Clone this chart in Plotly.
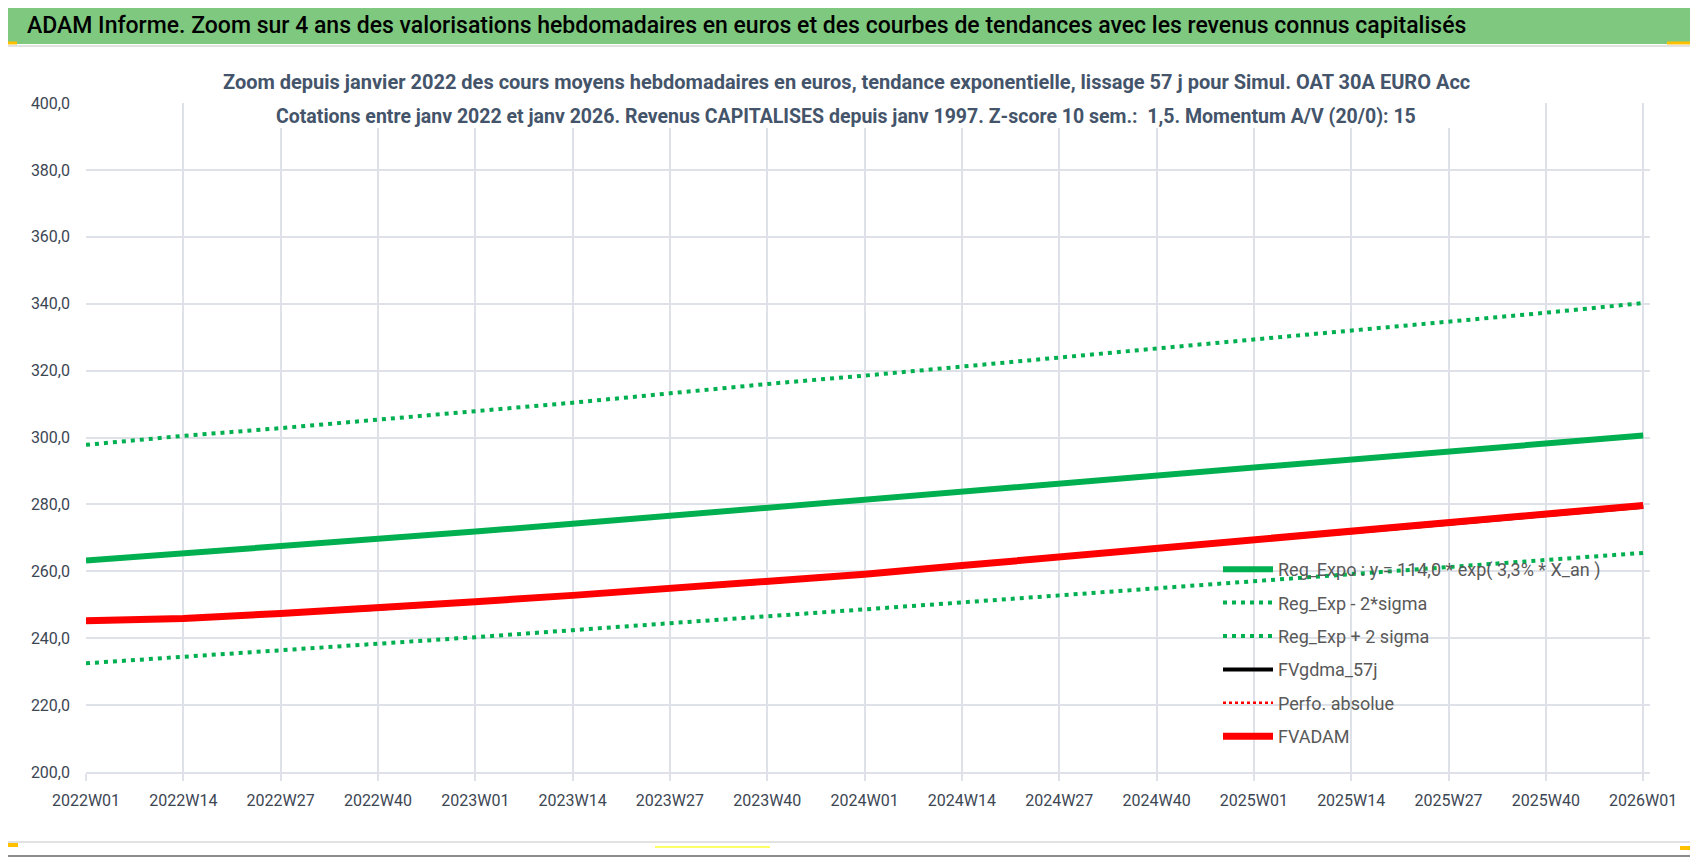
import plotly.graph_objects as go

# semaines affichées sur l'axe (une étiquette toutes les 13 semaines)
weeks = ["2022W01", "2022W14", "2022W27", "2022W40", "2023W01", "2023W14", "2023W27", "2023W40",
         "2024W01", "2024W14", "2024W27", "2024W40", "2025W01", "2025W14", "2025W27", "2025W40", "2026W01"]

# valeurs
reg_expo = [263.2, 265.3, 267.4, 269.6, 271.9, 274.2, 276.6, 278.9, 281.3, 283.7, 286.1, 288.6, 290.9, 293.4, 296.0, 298.5, 300.6]
reg_moins_2sigma = [232.5, 234.4, 236.3, 238.4, 240.3, 242.4, 244.4, 246.5, 248.5, 250.7, 252.8, 254.9, 257.0, 259.1, 261.3, 263.4, 265.5]
reg_plus_2sigma = [297.8, 300.5, 302.8, 305.3, 307.8, 310.4, 313.2, 316.0, 318.5, 321.1, 323.8, 326.6, 329.3, 332.0, 334.5, 337.3, 340.2]
fvgdma_57j = [245.0, 245.8, 247.3, 248.8, 250.8, 252.7, 254.7, 256.7, 259.0, 261.6, 264.2, 267.0, 269.3, 271.7, 274.3, 276.9, 279.3]
perfo_absolue = [245.2, 245.9, 247.4, 248.9, 250.9, 252.8, 254.8, 256.8, 259.1, 261.7, 264.3, 267.1, 269.4, 271.8, 274.4, 277.0, 279.7]
fvadam = [245.2, 245.9, 247.4, 248.9, 250.9, 252.8, 254.8, 256.8, 259.1, 261.7, 264.3, 267.1, 269.4, 271.8, 274.4, 277.0, 279.7]

# la page html garde 8 px de marge autour du graphique
OFF = 8
W, H = 1698 - OFF, 857 - OFF
ML, MR, MT, MB = 86 - OFF, 48, 103 - OFF, 85
FONT = "Roboto, Liberation Sans, sans-serif"
GREEN = "#00B050"
GRID = "#DEE2E8"
TXT = "#3C4653"


def px_x(x):
    # x écran -> coordonnée paper
    return (x - OFF - ML) / (W - ML - MR)


def px_y(y):
    # y écran -> coordonnée paper
    return (H - MB - (y - OFF)) / (H - MT - MB)


def rect(x0, y0, x1, y1, **kw):
    return dict(type="rect", xref="paper", yref="paper", x0=px_x(x0), x1=px_x(x1),
                y0=px_y(y0), y1=px_y(y1), layer="above", **kw)


def seg(x0, y0, x1, y1, color, width):
    return dict(type="line", xref="paper", yref="paper", x0=px_x(x0), x1=px_x(x1),
                y0=px_y(y0), y1=px_y(y1), layer="above", line=dict(color=color, width=width))


fig = go.Figure()
fig.add_trace(go.Scatter(x=weeks, y=reg_expo, mode="lines", legendgroup="a",
                         name="Reg_Expo : y = 114,0 * exp( 3,3% * X_an )",
                         line=dict(color=GREEN, width=6)))
fig.add_trace(go.Scatter(x=weeks, y=reg_moins_2sigma, mode="lines", name="Reg_Exp - 2*sigma", legendgroup="b",
                         line=dict(color=GREEN, width=4, dash="4px,5px")))
fig.add_trace(go.Scatter(x=weeks, y=reg_plus_2sigma, mode="lines", name="Reg_Exp + 2 sigma", legendgroup="c",
                         line=dict(color=GREEN, width=4, dash="4px,5px")))
fig.add_trace(go.Scatter(x=weeks, y=fvgdma_57j, mode="lines", name="FVgdma_57j", legendgroup="d",
                         line=dict(color="black", width=4)))
fig.add_trace(go.Scatter(x=weeks, y=perfo_absolue, mode="lines", name="Perfo. absolue", legendgroup="e",
                         line=dict(color="#FF0000", width=2.5, dash="dot")))
fig.add_trace(go.Scatter(x=weeks, y=fvadam, mode="lines", name="FVADAM", legendgroup="f",
                         line=dict(color="#FF0000", width=7)))

shapes = [
    # bandeau vert du titre
    rect(1, 2, 1697, 44, fillcolor="#7EC87F", line=dict(width=0)),
    # cadre du graphique
    rect(3, 46, 1692, 842, line=dict(color="#D9D9D9", width=1.5)),
    # cache blanc sous le sous-titre
    rect(214, 58, 1477, 128, fillcolor="white", line=dict(width=0)),
    # bordure extérieure
    rect(0.5, 0.5, 1697, 856, line=dict(color="#8C8C8C", width=2)),
    # poignées jaunes de sélection
    seg(0, 43, 17, 43, "#FFC000", 3),
    seg(1667, 43, 1697, 43, "#FFC000", 3),
    seg(1694, 43, 1694, 55, "#FFC000", 3),
    seg(0, 845, 18, 845, "#FFC000", 4),
    seg(655, 847, 770, 847, "#FFFF66", 2),
    seg(1694, 812, 1694, 848, "#FFC000", 4),
    seg(1680, 848, 1697, 848, "#FFC000", 4),
]

annotations = [
    dict(text="Zoom depuis janvier 2022 des cours moyens hebdomadaires en euros, tendance exponentielle, "
              "lissage 57 j pour Simul. OAT 30A EURO Acc",
         xref="paper", yref="paper", x=px_x(846), y=px_y(82), xanchor="center", yanchor="middle",
         showarrow=False, font=dict(family=FONT, size=20, color="#44546A", weight="bold")),
    dict(text="Cotations entre janv 2022 et janv 2026. Revenus CAPITALISES depuis janv 1997. "
              "Z-score 10 sem.:  1,5. Momentum A/V (20/0): 15",
         xref="paper", yref="paper", x=px_x(846), y=px_y(116), xanchor="center", yanchor="middle",
         showarrow=False, font=dict(family=FONT, size=19.5, color="#44546A", weight="bold")),
]

fig.update_layout(
    width=W, height=H,
    margin=dict(l=ML, r=MR, t=MT, b=MB),
    paper_bgcolor="white", plot_bgcolor="white",
    separators=", ",
    title=dict(text="ADAM Informe. Zoom sur 4 ans des valorisations hebdomadaires en euros et des courbes "
                    "de tendances avec les revenus connus capitalisés",
               x=(27 - OFF) / W, xanchor="left", xref="container",
               y=1 - (25 - OFF) / H, yanchor="middle", yref="container",
               font=dict(family=FONT, size=23, color="black", weight=500)),
    shapes=shapes,
    annotations=annotations,
    legend=dict(x=px_x(1218), y=px_y(551), xanchor="left", yanchor="top",
                bgcolor="rgba(0,0,0,0)", borderwidth=0, itemwidth=50, tracegroupgap=7,
                font=dict(family=FONT, size=18, color="#595959")),
)

fig.update_xaxes(type="category", range=[0, 16.07], showgrid=True, gridcolor=GRID, gridwidth=1.5,
                 showline=True, linecolor=GRID, linewidth=2, automargin=False,
                 ticks="outside", ticklen=7, tickcolor=GRID, tickwidth=1.5, ticklabelstandoff=6,
                 tickfont=dict(family=FONT, size=16, color=TXT))
fig.update_yaxes(range=[200, 400], dtick=20, tickformat=".1f", showgrid=True, gridcolor=GRID, gridwidth=1.5,
                 zeroline=False, ticks="", ticklabelstandoff=15, automargin=False,
                 tickfont=dict(family=FONT, size=16, color=TXT))

fig.write_html("out.html")
